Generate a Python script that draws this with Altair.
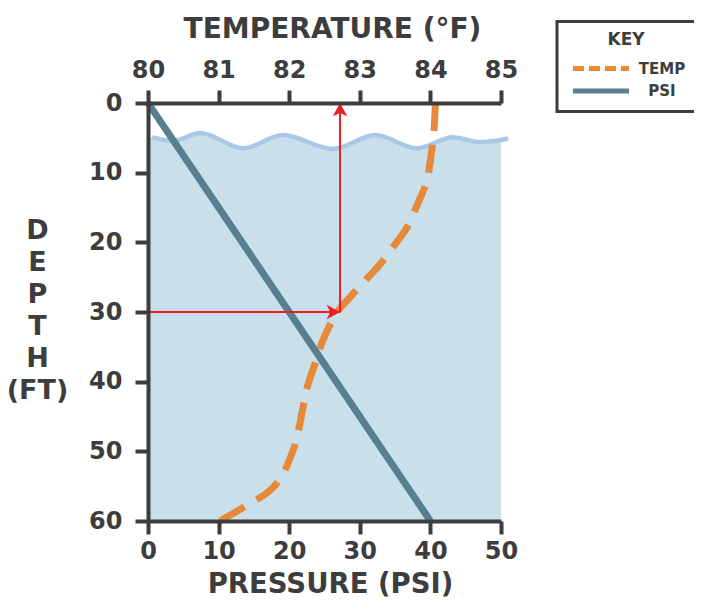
import altair as alt
import pandas as pd

# ---- data ----
temp_depth = [0, 4, 7.5, 11.5, 14, 18, 20, 23, 25, 28, 30, 34, 37, 41, 44, 48, 50, 54, 56, 58, 60]
temp_f = [84.07, 84.05, 84.01, 83.94, 83.84, 83.66, 83.52, 83.30, 83.12, 82.85, 82.68,
          82.48, 82.38, 82.25, 82.19, 82.11, 82.05, 81.87, 81.68, 81.36, 81.02]

psi_depth = [0, 60]
psi_val = [0, 40]

wave_psi = [0, 0.6, 3.5, 7.4, 13.5, 19.1, 26.2, 32.2, 38.1, 43.2, 47.0, 50.0, 51.0]
wave_depth = [5.0, 4.9, 5.45, 4.3, 6.5, 4.6, 6.6, 4.6, 6.5, 4.9, 5.6, 5.3, 5.1]

guide_depth = 30
guide_temp = 82.72

temp_ticks = [80, 81, 82, 83, 84, 85]
psi_ticks = [0, 10, 20, 30, 40, 50]
depth_ticks = [0, 10, 20, 30, 40, 50, 60]

series_names = ["TEMP", "PSI"]

# ---- styles ----
DARK = "#3d3d3d"
ORANGE = "#e8893a"
TEAL = "#587f8e"
WATER = "#c9dfe9"
WAVE = "#a9c8e7"
RED = "#ee1c25"
FONT = "DejaVu Sans"

temp_df = pd.DataFrame({"temp": temp_f, "depth": temp_depth, "series": "TEMP"})
psi_df = pd.DataFrame({"psi": psi_val, "depth": psi_depth, "series": "PSI"})
wave_df = pd.DataFrame({"psi": wave_psi, "depth": wave_depth})
fill_df = wave_df[wave_df["psi"] <= 50].assign(bottom=60)
wave_line_df = wave_df[wave_df["psi"] >= 0.6]
rules_df = pd.DataFrame({
    "temp": [temp_ticks[0], guide_temp],
    "temp2": [guide_temp, guide_temp],
    "depth": [guide_depth, guide_depth],
    "depth2": [guide_depth, 0],
})
heads_df = pd.DataFrame({"temp": [guide_temp, guide_temp], "depth": [guide_depth, 0], "angle": [90, 0]})

axis_common = dict(
    domainColor=DARK, domainWidth=4, tickColor=DARK, tickWidth=4, tickSize=13,
    labelFont=FONT, labelFontSize=24, labelFontWeight="bold", labelColor=DARK,
    titleFont=FONT, titleFontWeight="bold", titleColor=DARK,
    grid=False, zindex=1, labelFlush=False,
)

Y = alt.Y(
    "depth:Q",
    scale=alt.Scale(domain=[0, 60], reverse=True, nice=False, zero=False),
    axis=alt.Axis(
        values=depth_ticks, title=["D", "E", "P", "T", "H", "(FT)"], titleAngle=0,
        titleAlign="center", titleBaseline="top", titleX=-111, titleY=114,
        titleLineHeight=32, titleFontSize=27, labelPadding=13, **axis_common,
    ),
)

X_psi = alt.X(
    "psi:Q", scale=alt.Scale(domain=[0, 50], nice=False),
    axis=alt.Axis(orient="bottom", values=psi_ticks, title="PRESSURE (PSI)",
                  labelPadding=5, titleBaseline="alphabetic", titleY=71, titleX=182,
                  titleFontSize=27.5, **axis_common),
)
X_psi_plain = alt.X("psi:Q", scale=alt.Scale(domain=[0, 50], nice=False), axis=None)
X_temp = alt.X(
    "temp:Q", scale=alt.Scale(domain=[80, 85], nice=False, zero=False),
    axis=alt.Axis(orient="top", values=temp_ticks, title="TEMPERATURE (°F)",
                  labelPadding=8, titleBaseline="alphabetic", titleY=-66, titleX=184,
                  titleFontSize=28, **axis_common),
)
X_temp_plain = alt.X("temp:Q", scale=alt.Scale(domain=[80, 85], nice=False, zero=False), axis=None)

legend = alt.Legend(
    title="KEY", orient="none", legendX=409, legendY=-81.5,
    titleFont=FONT, titleFontSize=17, titleFontWeight="bold", titleColor=DARK,
    titleAnchor="middle", titleAlign="center", titlePadding=8,
    labelFont=FONT, labelFontSize=15, labelFontWeight="bold", labelColor=DARK,
    labelAlign="center", labelOffset=49,
    symbolType="M-3,0L3,0", symbolSize=350, symbolStrokeWidth=5, symbolOffset=22,
    padding=10, fillColor="white", strokeColor=DARK, rowPadding=0.5,
)
COLOR = alt.Color("series:N", scale=alt.Scale(domain=series_names, range=[ORANGE, TEAL]),
                  legend=legend, title="KEY")
DASH = alt.StrokeDash("series:N", scale=alt.Scale(domain=series_names, range=[[11, 5], [1, 0]]),
                      legend=legend, title="KEY")

water = alt.layer(
    alt.Chart(fill_df).mark_area(color=WATER, interpolate="monotone").encode(
        x=X_psi, y=Y, y2="bottom:Q"),
    alt.Chart(wave_line_df).mark_line(color=WAVE, strokeWidth=4.5, interpolate="monotone").encode(
        x=X_psi, y=Y),
)

temp_line = alt.Chart(temp_df).mark_line(
    strokeWidth=7, strokeDash=[28, 14], interpolate="catmull-rom"
).encode(x=X_temp, y=Y, color=COLOR, order="depth:Q")

psi_line = alt.Chart(psi_df).mark_line(strokeWidth=7).encode(
    x=X_psi_plain, y=Y, color=COLOR, strokeDash=DASH)

guides = alt.layer(
    alt.Chart(rules_df).mark_rule(color=RED, strokeWidth=2).encode(
        x=X_temp_plain, x2="temp2:Q", y=Y, y2="depth2:Q"),
    alt.Chart(heads_df).mark_point(
        shape="M0,0L-0.55,1L0,0.75L0.55,1Z", filled=True, color=RED, opacity=1, size=700
    ).encode(x=X_temp_plain, y=Y, angle=alt.Angle("angle:Q", scale=None)),
)

chart = alt.layer(water, temp_line, psi_line, guides).resolve_scale(x="independent").properties(
    width=353, height=418, autosize="none",
    padding={"left": 140, "top": 95, "right": 193, "bottom": 77},
    background="white",
).configure_view(stroke=None).configure_legend(strokeWidth=3)

chart.save("out.html", embed_options={"renderer": "svg", "actions": False})
